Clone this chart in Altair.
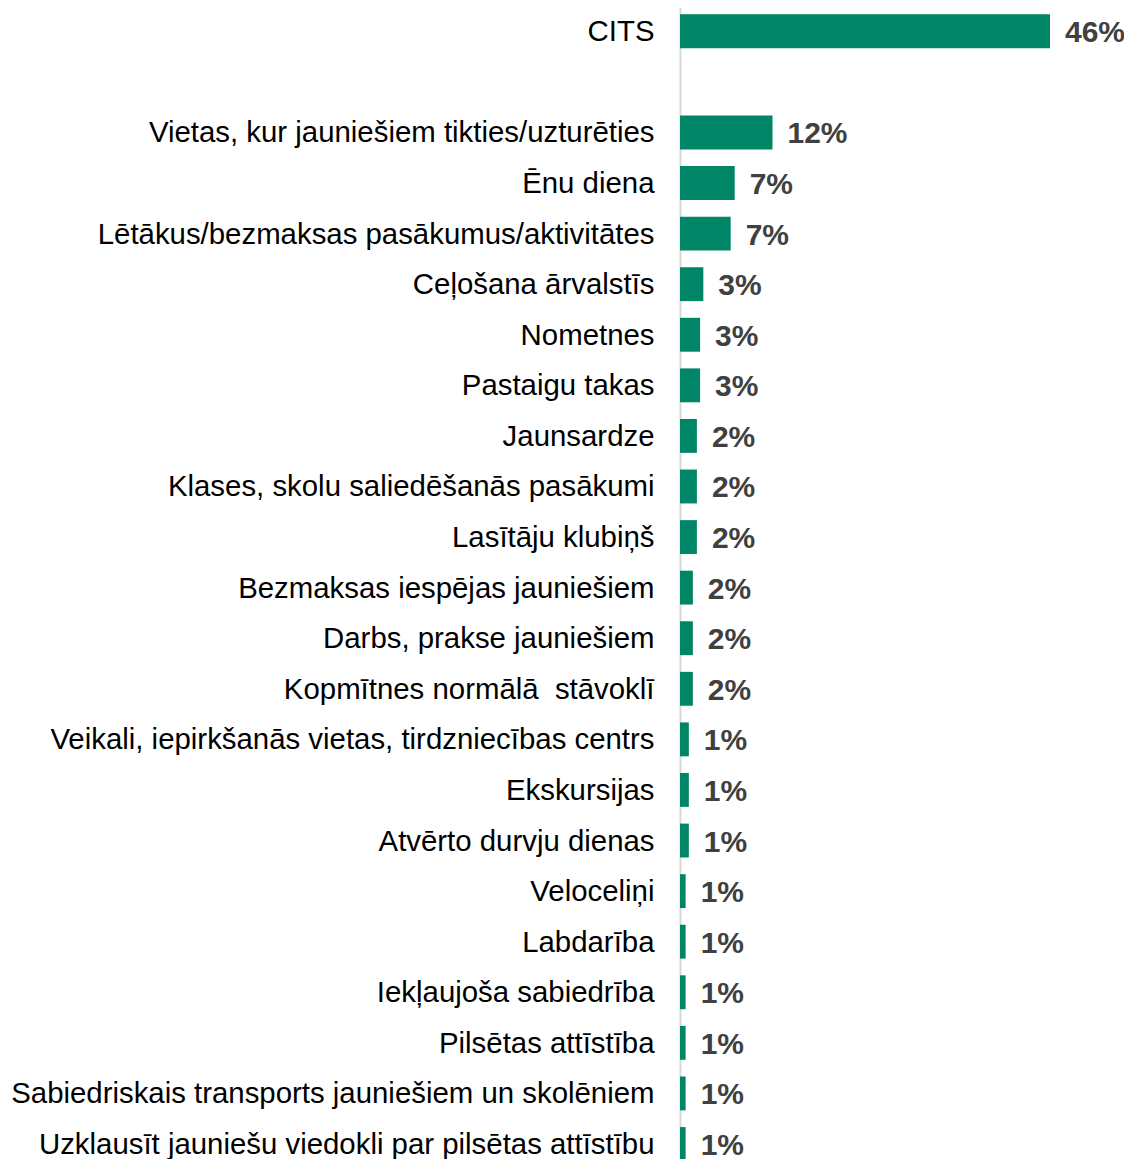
import altair as alt
import pandas as pd

categories = [
    "CITS",
    "Vietas, kur jauniešiem tikties/uzturēties",
    "Ēnu diena",
    "Lētākus/bezmaksas pasākumus/aktivitātes",
    "Ceļošana ārvalstīs",
    "Nometnes",
    "Pastaigu takas",
    "Jaunsardze",
    "Klases, skolu saliedēšanās pasākumi",
    "Lasītāju klubiņš",
    "Bezmaksas iespējas jauniešiem",
    "Darbs, prakse jauniešiem",
    "Kopmītnes normālā\u00a0 stāvoklī",
    "Veikali, iepirkšanās vietas, tirdzniecības centrs",
    "Ekskursijas",
    "Atvērto durvju dienas",
    "Veloceliņi",
    "Labdarība",
    "Iekļaujoša sabiedrība",
    "Pilsētas attīstība",
    "Sabiedriskais transports jauniešiem un skolēniem",
    "Uzklausīt jauniešu viedokli par pilsētas attīstību",
]
values = [46.0, 11.5, 6.8, 6.3, 2.9, 2.5, 2.5, 2.1, 2.1, 2.1, 1.6, 1.6, 1.6,
          1.1, 1.1, 1.1, 0.7, 0.7, 0.7, 0.7, 0.7, 0.7]
labels = ["46%", "12%", "7%", "7%", "3%", "3%", "3%", "2%", "2%", "2%", "2%",
          "2%", "2%", "1%", "1%", "1%", "1%", "1%", "1%", "1%", "1%", "1%"]

# blank row between CITS and the rest
y_domain = [categories[0], " "] + categories[1:]

df = pd.DataFrame({"cat": categories, "val": values, "lab": labels})

n_rows = len(y_domain)
step = 50.58
plot_h = round(n_rows * step, 1)

y_enc = alt.Y(
    "cat:N",
    sort=y_domain,
    scale=alt.Scale(domain=y_domain, paddingInner=0.33, paddingOuter=0.165),
    axis=alt.Axis(
        title=None,
        ticks=False,
        tickSize=0,
        labelPadding=26,
        labelOffset=1,
        labelFont="Liberation Sans",
        labelFontSize=29.4,
        labelColor="#000000",
        labelLimit=2000,
        domainColor="#d9d9d9",
        domainWidth=2,
        grid=False,
    ),
)
x_enc = alt.X("val:Q", scale=alt.Scale(domain=[0, 55.2], nice=False), axis=None)

bars = alt.Chart(df).mark_bar(color="#008566").encode(x=x_enc, y=y_enc)
text = alt.Chart(df).mark_text(
    align="left",
    baseline="middle",
    dx=15,
    dy=2,
    font="Liberation Sans",
    fontSize=30,
    fontWeight="bold",
    color="#404040",
).encode(x=x_enc, y=y_enc, text="lab:N")

chart = (
    alt.layer(bars, text)
    .properties(
        width=444,
        height=plot_h,
        autosize=alt.AutoSizeParams(type="none"),
        padding={"left": 672, "top": -2, "right": 0, "bottom": 0},
    )
    .configure_view(stroke=None)
)

chart.save("out.html", embed_options={"renderer": "svg", "actions": False})
